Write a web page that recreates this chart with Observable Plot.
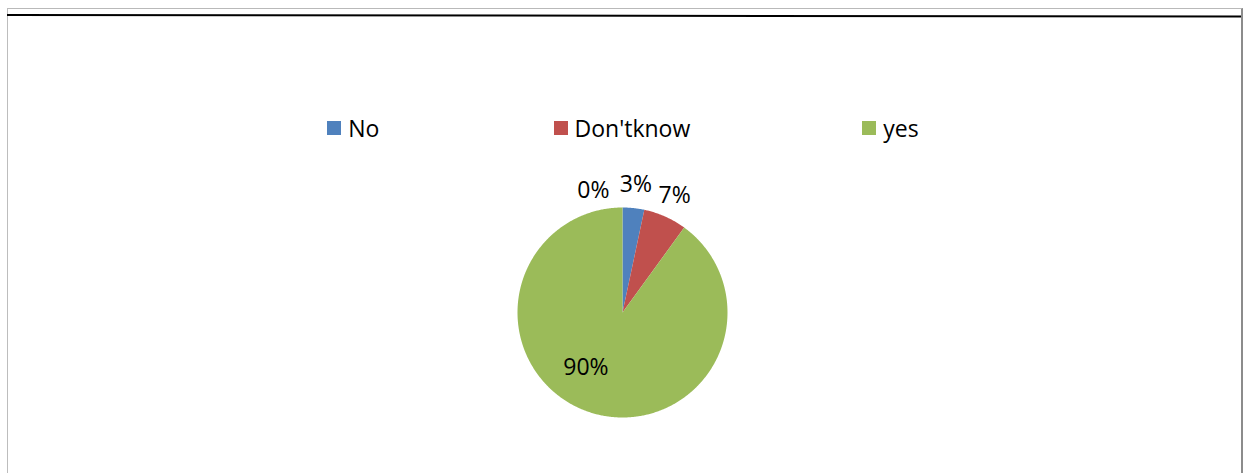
<!DOCTYPE html>
<html>
<head>
<meta charset="utf-8">
<script src="https://cdn.jsdelivr.net/npm/d3@7"></script>
<script src="https://cdn.jsdelivr.net/npm/@observablehq/plot@0.6"></script>
<style>
  html, body { margin: 0; padding: 0; background: #fff; }
  #wrap { position: relative; width: 1244px; height: 473px; overflow: hidden; font-family: "Open Sans", sans-serif; }
  #frame { position: absolute; left: 7px; top: 8px; width: 1236px; height: 480px; box-sizing: border-box;
           border-top: 1px solid #b9b9b9; border-left: 1px solid #bdbdbd; border-right: 2px solid #8c8c8c; }
  #rule { position: absolute; left: 7px; top: 13.5px; width: 1234px; height: 2px; background: #000;
          transform-origin: left center; transform: rotate(0.07deg); }
  #legend { position: absolute; left: 219px; top: 113px; width: 806px; height: 30px; display: flex; }
  .item { width: 268.6px; display: flex; align-items: center; justify-content: center; font-size: 23px; line-height: 30px; color: #000; }
  .sw { width: 14px; height: 14px; margin-right: 7px; flex: none; }
  #chart { position: absolute; left: 0; top: 160px; }
</style>
</head>
<body>
<div id="wrap">
  <div id="frame"></div>
  <div id="rule"></div>
  <div id="legend"></div>
  <div id="chart"></div>
</div>
<script>
// ---- data ----
const categories = ["No", "Don'tknow", "yes", ""];
const values = [1, 2, 27, 0];
const colors = ["#4F81BD", "#C0504D", "#9BBB59", "#8064A2"];

// ---- build slices ----
const total = d3.sum(values);
const pie = d3.pie().sort(null).value(d => d.value).startAngle(0).endAngle(2 * Math.PI);
const arcs = pie(categories.map((c, i) => ({cat: c, value: values[i]})));

const slicePts = [];
arcs.forEach(a => {
  const cat = a.data.cat;
  slicePts.push({cat, x: 0, y: 0});
  const n = Math.max(2, Math.ceil((a.endAngle - a.startAngle) / (Math.PI / 360)));
  for (let k = 0; k <= n; k++) {
    const t = a.startAngle + (a.endAngle - a.startAngle) * k / n;
    slicePts.push({cat, x: Math.sin(t), y: Math.cos(t)});
  }
  slicePts.push({cat, x: 0, y: 0});
});

const labels = arcs.map(a => {
  const share = a.data.value / total;
  const mid = (a.startAngle + a.endAngle) / 2;
  const inside = share > 0.5;
  const r = inside ? 0.63 : 1.22;
  const ang = inside ? mid + 15.6 * Math.PI / 180 : mid;
  return {
    cat: a.data.cat,
    text: Math.round(share * 100) + "%",
    x: r * Math.sin(ang),
    y: r * Math.cos(ang),
    zero: a.data.value === 0
  };
});

// ---- legend ----
const legend = document.getElementById("legend");
categories.forEach((c, i) => {
  if (!c) return;
  const item = document.createElement("div");
  item.className = "item";
  const sw = document.createElement("span");
  sw.className = "sw";
  sw.style.background = colors[i];
  const tx = document.createElement("span");
  tx.textContent = c;
  item.appendChild(sw);
  item.appendChild(tx);
  legend.appendChild(item);
});

// ---- chart ----
const chart = Plot.plot({
  width: 1244,
  height: 270,
  marginLeft: 517,
  marginRight: 517,
  marginTop: 47,
  marginBottom: 13,
  x: {domain: [-1, 1], axis: null},
  y: {domain: [-1, 1], axis: null},
  color: {domain: categories, range: colors},
  style: {fontFamily: "Open Sans", fontSize: "23px", background: "transparent", overflow: "visible"},
  marks: [
    Plot.line(slicePts, {x: "x", y: "y", z: "cat", fill: "cat", stroke: "none"}),
    Plot.text(labels.filter(d => !d.zero), {x: "x", y: "y", text: "text", fill: "#000", fontSize: 23}),
    Plot.text(labels.filter(d => d.zero), {x: "x", y: "y", text: "text", fill: "#000", fontSize: 23, textAnchor: "end", dx: -13, dy: 6})
  ]
});
document.getElementById("chart").appendChild(chart);
</script>
</body>
</html>
